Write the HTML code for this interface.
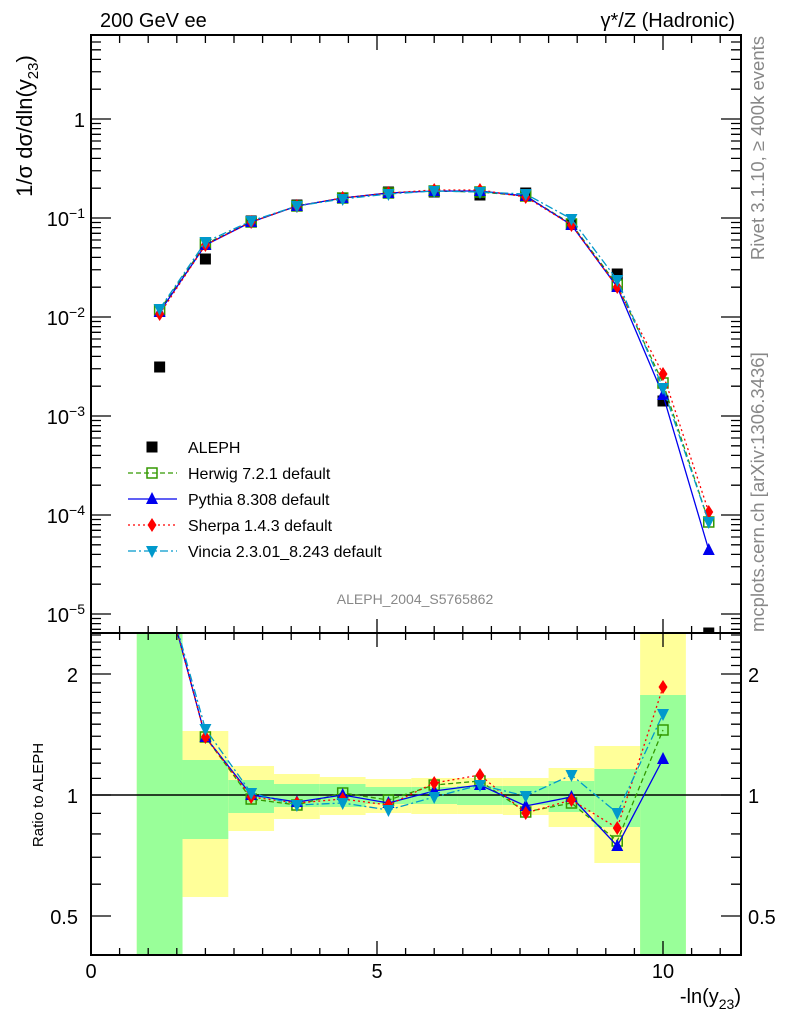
<!DOCTYPE html>
<html><head><meta charset="utf-8"><style>
html,body{margin:0;padding:0;background:#fff;}
svg{display:block;font-family:"Liberation Sans",sans-serif;}
</style></head><body>
<svg id="s" width="786" height="1024" viewBox="0 0 786 1024" xmlns="http://www.w3.org/2000/svg">
<defs>
<clipPath id="cm"><rect x="91" y="35" width="650" height="598"/></clipPath>
<clipPath id="cr"><rect x="91" y="633" width="650" height="322"/></clipPath>
</defs>
<g id="bands" clip-path="url(#cr)"></g>
<line x1="91" y1="795" x2="741" y2="795" stroke="#000" stroke-width="1.5"/>
<g id="ticks" stroke="#000" stroke-width="1.3" fill="none"></g>
<g id="curves"></g>
<rect x="91" y="35" width="650" height="598" fill="none" stroke="#000" stroke-width="2"/>
<rect x="91" y="633" width="650" height="322" fill="none" stroke="#000" stroke-width="2"/>
<g font-size="20" fill="#000">
<text x="100" y="27">200 GeV ee</text>
<text x="735" y="27" text-anchor="end">γ*/Z (Hadronic)</text>
<text x="85" y="127" text-anchor="end">1</text>
<text x="85" y="226" text-anchor="end">10<tspan dy="-8" font-size="14">−1</tspan></text>
<text x="85" y="325" text-anchor="end">10<tspan dy="-8" font-size="14">−2</tspan></text>
<text x="85" y="424" text-anchor="end">10<tspan dy="-8" font-size="14">−3</tspan></text>
<text x="85" y="523" text-anchor="end">10<tspan dy="-8" font-size="14">−4</tspan></text>
<text x="85" y="622" text-anchor="end">10<tspan dy="-8" font-size="14">−5</tspan></text>
<text x="78" y="682" text-anchor="end">2</text>
<text x="78" y="803" text-anchor="end">1</text>
<text x="78" y="924" text-anchor="end">0.5</text>
<text x="748" y="682">2</text>
<text x="748" y="803">1</text>
<text x="748" y="924">0.5</text>
<text x="91" y="978" text-anchor="middle">0</text>
<text x="377" y="978" text-anchor="middle">5</text>
<text x="663" y="978" text-anchor="middle">10</text>
<text x="741" y="1003" text-anchor="end">-ln(y<tspan dy="6" font-size="14">23</tspan><tspan dy="-6">)</tspan></text>
<text transform="translate(32,126) rotate(-90)" text-anchor="middle" font-size="22">1/σ  dσ/dln(y<tspan dy="6" font-size="15">23</tspan><tspan dy="-6">)</tspan></text>
</g>
<text transform="translate(43,795) rotate(-90)" text-anchor="middle" font-size="15">Ratio to ALEPH</text>
<g font-size="18.5" fill="#888">
<text transform="translate(764,36) rotate(-90)" text-anchor="end">Rivet 3.1.10, ≥ 400k events</text>
<text transform="translate(764,632) rotate(-90)">mcplots.cern.ch [arXiv:1306.3436]</text>
<text x="415" y="604" text-anchor="middle" font-size="14">ALEPH_2004_S5765862</text>
</g>
<g font-size="16" fill="#000">
<text x="188" y="453">ALEPH</text>
<text x="188" y="479">Herwig 7.2.1 default</text>
<text x="188" y="505">Pythia 8.308 default</text>
<text x="188" y="531">Sherpa 1.4.3 default</text>
<text x="188" y="557">Vincia 2.3.01_8.243 default</text>
</g>
<g id="legend"></g>
</svg>
<script>
var NS="http://www.w3.org/2000/svg";
function el(p,t,a){var e=document.createElementNS(NS,t);for(var k in a)e.setAttribute(k,a[k]);p.appendChild(e);return e;}
var T=document.getElementById('ticks'),B=document.getElementById('bands'),C=document.getElementById('curves'),L=document.getElementById('legend');
var d="";
function X(v){return 91+57.2*v;}
var dec=[119,218,317,416,515,614,713,20];
for(var i=0;i<dec.length;i++){var y0=dec[i];
 if(y0>=35&&y0<=633){d+="M91 "+y0+"h20M741 "+y0+"h-20";}
 for(var k=2;k<=9;k++){var y=y0-99*Math.log10(k);if(y>35&&y<633){d+="M91 "+y+"h10M741 "+y+"h-10";}}}
for(var r=0.4;r<=2.56;r+=0.1){var y=795-402*Math.log10(r);if(y>633&&y<955){var maj=Math.abs(r-0.5)<0.01||Math.abs(r-1)<0.01||Math.abs(r-2)<0.01;var l=maj?20:10;d+="M91 "+y+"h"+l+"M741 "+y+"h-"+l;}}
for(var v=0;v<=11.3;v+=0.5){var x=X(v);var maj=(Math.abs(v%5)<0.01);var l=maj?14:7;
 d+="M"+x+" 35v"+(maj?15:8)+"M"+x+" 633v-"+l+"M"+x+" 633v"+l+"M"+x+" 955v-"+l;}
el(T,'path',{d:d});
var edges=[0.8,1.6,2.4,3.2,4.0,4.8,5.6,6.4,7.2,8.0,8.8,9.6,10.4];
var yel=[[633,955],[731,897],[766,831],[774,819],[777,815],[779,813],[778,814],[778,814],[778,815],[768,827],[746,863],[633,955]];
var grn=[[633,955],[760,839],[780,813],[784,807],[784,807],[787,804],[787,804],[786,805],[786,805],[781,812],[769,827],[695,955]];
for(var i=0;i<12;i++){var x0=X(edges[i]),w=X(edges[i+1])-x0;
 el(B,'rect',{x:x0,y:yel[i][0],width:w,height:yel[i][1]-yel[i][0],fill:'#ffff99'});
 el(B,'rect',{x:x0,y:grn[i][0],width:w,height:grn[i][1]-grn[i][0],fill:'#99ff99'});}
var xs=[];for(var i=0;i<13;i++)xs.push(X(1.2+0.8*i));
var aleph=[367,259,221,205,198,192,192,195,193,224,274,401,633];
var S=[
 {c:'#339900',da:'5,3',m:'os',main:[310,244,222,206,198,193,191,192,196,224,285,383,522],rat:[566,737,799,805,793,800,785,781,812,803,841,730]},
 {c:'#0000ee',da:'',m:'tu',main:[312,245,222,206,198,193,191,191,196,225,287,395,550],rat:[566,737,795,802,795,803,791,785,806,797,846,759]},
 {c:'#ff0000',da:'2,3',m:'di',main:[314,245,222,206,198,193,190,190,197,225,287,374,512],rat:[566,737,797,803,799,805,783,775,813,800,828,687]},
 {c:'#0099cc',da:'8,3,2,3',m:'td',main:[309,242,221,206,199,194,191,192,194,219,280,388,522],rat:[566,729,793,805,803,810,797,785,796,775,813,714]}
];
function mark(p,m,c,x,y){
 if(m=='os')el(p,'rect',{x:x-5,y:y-5,width:10,height:10,fill:'none',stroke:c,'stroke-width':1.5});
 else if(m=='tu')el(p,'polygon',{points:(x-6)+","+(y+5)+" "+(x+6)+","+(y+5)+" "+x+","+(y-7),fill:c});
 else if(m=='di')el(p,'polygon',{points:x+","+(y-7)+" "+(x+4.5)+","+y+" "+x+","+(y+7)+" "+(x-4.5)+","+y,fill:c});
 else if(m=='td')el(p,'polygon',{points:(x-6)+","+(y-5)+" "+(x+6)+","+(y-5)+" "+x+","+(y+7),fill:c});
 else if(m=='sq')el(p,'rect',{x:x-5.5,y:y-5.5,width:11,height:11,fill:c});
}
var gm=el(C,'g',{'clip-path':'url(#cm)'}),gr=el(C,'g',{'clip-path':'url(#cr)'});
for(var i=0;i<13;i++)mark(gm,'sq','#000',xs[i],aleph[i]);
S.forEach(function(s,j){
 var p="",q="";
 for(var i=0;i<13;i++)p+=(i?"L":"M")+xs[i]+" "+s.main[i];
 for(var i=0;i<12;i++)q+=(i?"L":"M")+xs[i]+" "+s.rat[i];
 var a={d:p,fill:'none',stroke:s.c,'stroke-width':1.3};if(s.da)a['stroke-dasharray']=s.da;
 el(gm,'path',a);var b=Object.assign({},a);b.d=q;el(gr,'path',b);
 for(var i=0;i<13;i++)mark(gm,s.m,s.c,xs[i],s.main[i]);
 for(var i=0;i<12;i++)mark(gr,s.m,s.c,xs[i],s.rat[i]);
 var ly=473+26*j;var la={d:"M128 "+ly+"H177",stroke:s.c,'stroke-width':1.3,fill:'none'};if(s.da)la['stroke-dasharray']=s.da;
 el(L,'path',la);mark(L,s.m,s.c,152,ly);
});
mark(L,'sq','#000',152,447);
</script>
</body></html>
